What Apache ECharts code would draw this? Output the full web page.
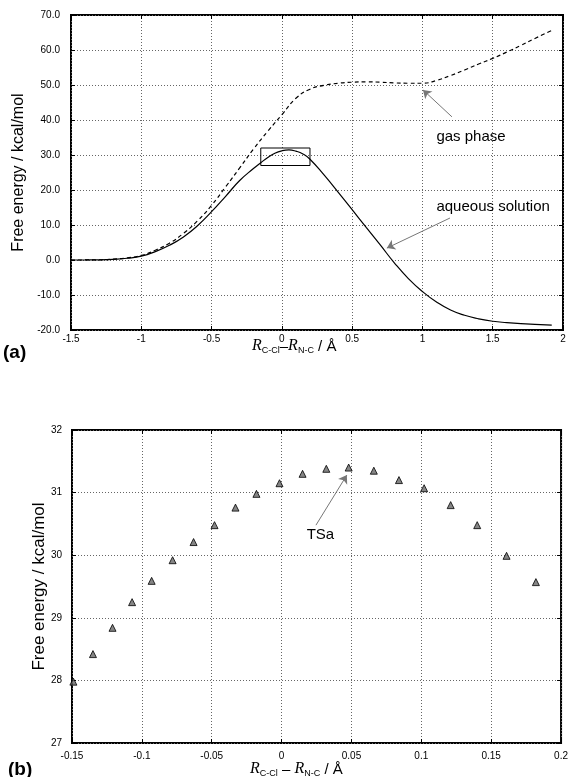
<!DOCTYPE html>
<html>
<head>
<meta charset="utf-8">
<script src="https://cdn.jsdelivr.net/npm/echarts@6/dist/echarts.min.js"></script>
<style>
html,body{margin:0;padding:0;background:#fff;}
#chart{width:571px;height:777px;}
</style>
</head>
<body>
<div id="chart"></div>
<script>
// ---- Panel (a): free energy profiles ----
const aqueousX = [-1.5,-1.4,-1.3,-1.2,-1.1,-1.0,-0.9,-0.8,-0.7,-0.6,-0.5,-0.4,-0.3,-0.2,-0.15,-0.1,-0.05,0,0.05,0.1,0.15,0.2,0.3,0.4,0.5,0.6,0.7,0.8,0.9,1.0,1.1,1.2,1.3,1.4,1.5,1.6,1.7,1.8,1.92];
const aqueousY = [0,0.01,0.05,0.2,0.5,1.1,2.4,4.2,6.6,9.8,13.8,18.2,22.7,26.2,27.8,29.3,30.5,31.2,31.45,31.1,30.3,28.8,24.3,19.4,14.4,9.3,4.3,-0.8,-5.3,-9.0,-12.0,-14.3,-15.8,-16.8,-17.5,-17.9,-18.2,-18.4,-18.6];
const gasX = [-1.5,-1.4,-1.3,-1.2,-1.1,-1.0,-0.9,-0.8,-0.7,-0.6,-0.5,-0.4,-0.3,-0.2,-0.1,0,0.1,0.2,0.3,0.4,0.5,0.6,0.7,0.8,0.9,1.0,1.1,1.2,1.3,1.4,1.5,1.6,1.7,1.8,1.92];
const gasY = [0,0.01,0.05,0.25,0.6,1.3,2.8,4.8,7.6,11.2,15.6,20.9,26.3,31.8,36.8,41.5,46.2,48.8,49.9,50.5,50.8,50.9,50.8,50.6,50.5,50.5,51.3,52.7,54.3,56.0,57.6,59.4,61.3,63.3,65.6];

// ---- Panel (b): points near the transition state ----
const tsX = [-0.149,-0.135,-0.121,-0.107,-0.093,-0.078,-0.063,-0.048,-0.033,-0.018,-0.0015,0.015,0.032,0.048,0.066,0.084,0.102,0.121,0.140,0.161,0.182];
const tsY = [27.98,28.42,28.84,29.25,29.59,29.92,30.21,30.48,30.76,30.98,31.15,31.30,31.38,31.40,31.35,31.20,31.07,30.80,30.48,29.99,29.57];

const zip = (xs, ys) => xs.map((x, i) => [x, ys[i]]);

const FONT = "'Liberation Sans', Arial, Helvetica, sans-serif";
const gridLine = {show: true, lineStyle: {type: [1, 2], color: '#666', width: 1}};
const tick = {show: true, inside: true, length: 4, lineStyle: {color: '#000', width: 1}};
const noLine = {show: false, onZero: false};

function xAx(gi, min, max, interval, margin) {
  return [{
    type: 'value', gridIndex: gi, min, max, interval, position: 'bottom',
    axisLine: noLine, axisTick: tick, splitLine: gridLine,
    axisLabel: {color: '#000', fontSize: 10, fontFamily: FONT, margin}
  }, {
    type: 'value', gridIndex: gi, min, max, interval, position: 'top',
    axisLine: noLine, axisTick: tick, splitLine: {show: false},
    axisLabel: {show: false}
  }];
}
function yAx(gi, min, max, interval, name, nameGap, nameSize, fmt, margin) {
  return [{
    type: 'value', gridIndex: gi, min, max, interval, position: 'left',
    name, nameLocation: 'middle', nameGap, nameMoveOverlap: false,
    nameTextStyle: {color: '#000', fontSize: nameSize, fontFamily: FONT},
    axisLine: noLine, axisTick: tick, splitLine: gridLine,
    axisLabel: {color: '#000', fontSize: 10, fontFamily: FONT, margin, formatter: fmt}
  }, {
    type: 'value', gridIndex: gi, min, max, interval, position: 'right',
    axisLine: noLine, axisTick: tick, splitLine: {show: false},
    axisLabel: {show: false}
  }];
}

const arrowLine = (from, to) => [
  {coord: from, symbol: 'none'},
  {coord: to, symbol: 'arrow'}
];
const textPoint = (coord, text, size) => ({
  coord, symbol: 'circle', symbolSize: 1, itemStyle: {color: 'rgba(0,0,0,0)'},
  label: {show: true, position: 'right', distance: 0, formatter: text, color: '#000', fontSize: size, fontFamily: FONT}
});

const rich = {
  r: {fontFamily: "'Liberation Serif', 'Times New Roman', serif", fontStyle: 'italic', fontSize: 16, color: '#000', lineHeight: 18, verticalAlign: 'bottom'},
  s: {fontFamily: FONT, fontSize: 9, color: '#000', lineHeight: 18, verticalAlign: 'bottom', padding: [0, 0, -1, 0]},
  d: {fontFamily: FONT, fontSize: 15, color: '#000', lineHeight: 18, verticalAlign: 'bottom'},
  t: {fontFamily: FONT, fontSize: 15, color: '#000', lineHeight: 18, verticalAlign: 'bottom'}
};

const option = {
  backgroundColor: '#fff',
  animation: false,
  grid: [
    {left: 71, top: 15, width: 492, height: 315, show: true, borderColor: '#000', borderWidth: 2, backgroundColor: 'rgba(0,0,0,0)'},
    {left: 72, top: 430, width: 491, height: 313, show: true, borderColor: '#000', borderWidth: 2, backgroundColor: 'rgba(0,0,0,0)'}
  ],
  xAxis: [...xAx(0, -1.5, 2, 0.5, 4), ...xAx(1, -0.15, 0.2, 0.05, 8)],
  yAxis: [
    ...yAx(0, -20, 70, 10, 'Free energy / kcal/mol', 44, 16, v => v.toFixed(1), 11),
    ...yAx(1, 27, 32, 1, 'Free energy / kcal/mol', 24, 17, v => String(v), 10)
  ],
  series: [
    {
      type: 'line', xAxisIndex: 0, yAxisIndex: 0, data: zip(gasX, gasY),
      smooth: true, showSymbol: false, silent: true,
      lineStyle: {color: '#000', width: 1.2, type: [4, 3]},
      markLine: {
        silent: true, symbolSize: 8, label: {show: false},
        lineStyle: {color: '#777', width: 1, type: 'solid'},
        data: [arrowLine([1.21, 40.9], [1.004, 48.6])]
      },
      markPoint: {silent: true, data: [textPoint([1.096, 35.1], 'gas phase', 15)]}
    },
    {
      type: 'line', xAxisIndex: 0, yAxisIndex: 0, data: zip(aqueousX, aqueousY),
      smooth: true, showSymbol: false, silent: true,
      lineStyle: {color: '#000', width: 1.2},
      markLine: {
        silent: true, symbolSize: 8, label: {show: false},
        lineStyle: {color: '#777', width: 1, type: 'solid'},
        data: [arrowLine([1.196, 12], [0.747, 3.4])]
      },
      markPoint: {silent: true, data: [textPoint([1.096, 15.1], 'aqueous solution', 15)]},
      markArea: {
        silent: true,
        itemStyle: {color: 'rgba(0,0,0,0)', borderColor: '#000', borderWidth: 1},
        data: [[{coord: [-0.15, 27]}, {coord: [0.2, 32]}]]
      }
    },
    {
      type: 'scatter', xAxisIndex: 2, yAxisIndex: 2, data: zip(tsX, tsY),
      symbol: 'triangle', symbolSize: 7, silent: true,
      itemStyle: {color: '#666', borderColor: '#000', borderWidth: 1},
      markLine: {
        silent: true, symbolSize: 8, label: {show: false},
        lineStyle: {color: '#777', width: 1, type: 'solid'},
        data: [arrowLine([0.0246, 30.48], [0.0467, 31.28])]
      },
      markPoint: {silent: true, data: [textPoint([0.0176, 30.32], 'TSa', 15)]}
    }
  ],
  graphic: [
    {type: 'text', left: 3, top: 343, style: {text: '(a)', font: "bold 19px 'Liberation Sans', Arial, sans-serif", fill: '#000'}},
    {type: 'text', left: 8, top: 760, style: {text: '(b)', font: "bold 19px 'Liberation Sans', Arial, sans-serif", fill: '#000'}},
    {type: 'text', left: 252, top: 338, style: {text: '{r|R}{s|C-Cl}{d|–}{r|R}{s|N-C}{t| / Å}', rich}},
    {type: 'text', left: 250, top: 761, style: {text: '{r|R}{s|C-Cl}{d| – }{r|R}{s|N-C}{t| / Å}', rich}}
  ]
};

const chart = echarts.init(document.getElementById('chart'), null, {renderer: 'canvas'});
chart.setOption(option);
</script>
</body>
</html>
